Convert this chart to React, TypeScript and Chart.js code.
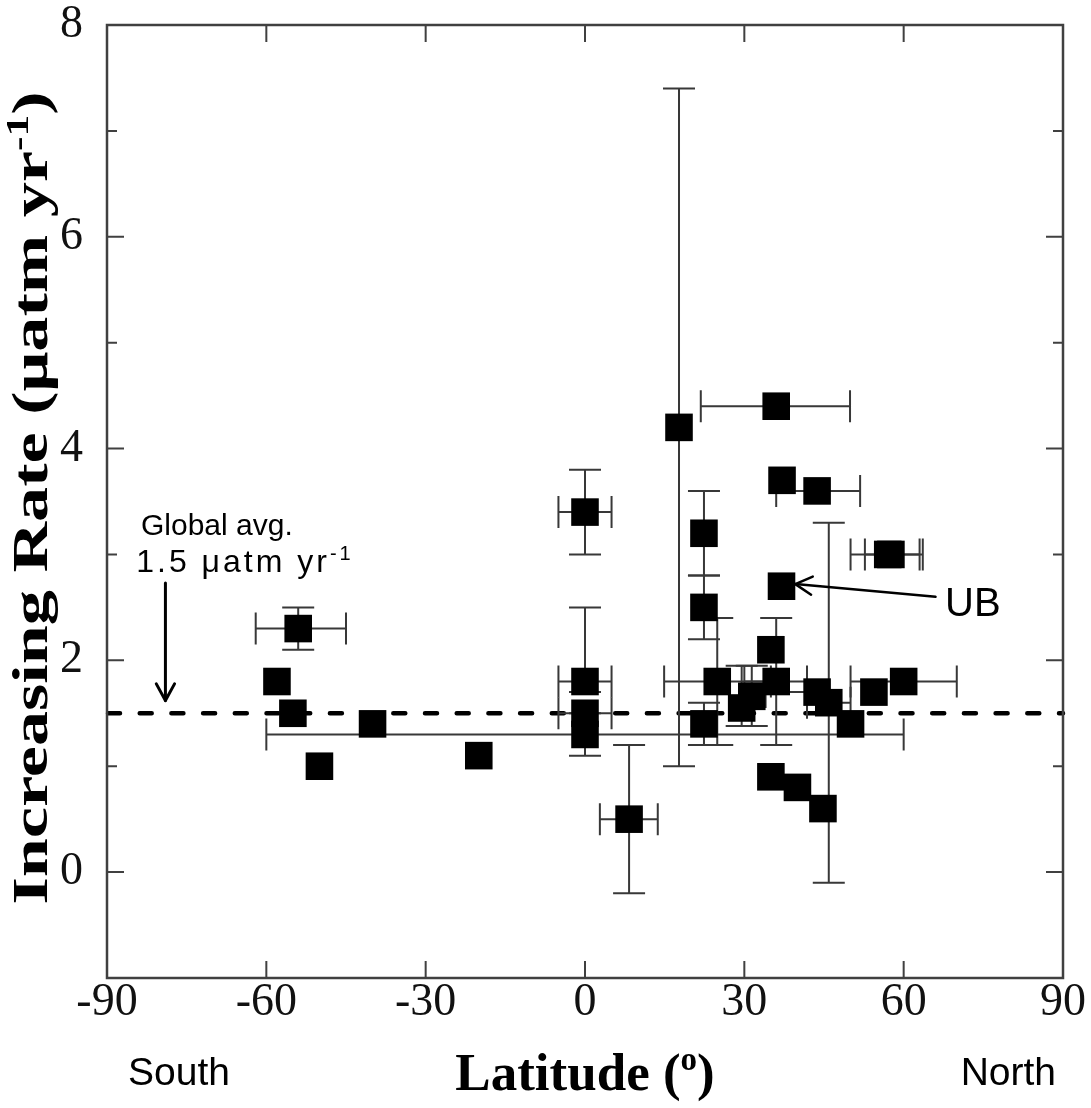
import React, { useEffect, useRef } from "react";
import { Chart, registerables } from "chart.js";

Chart.register(...registerables);

// ---- data ----
const latitude = [
  -58, -54, -55, -50, -40, -20,
  0, 0, 0, 0, 8.3,
  17.7, 22.4, 22.4, 24.9, 22.4, 29.5, 31.4, 35, 36,
  36, 37.1, 43.7, 37, 57, 57.6,
  43.7, 45.9, 50, 54.4, 60,
  35, 40, 44.8,
];
const rate = [
  1.8, 2.3, 1.5, 1.0, 1.4, 1.1,
  3.4, 1.8, 1.5, 1.3, 0.5,
  4.2, 3.2, 2.5, 1.8, 1.4, 1.55, 1.66, 2.1, 1.8,
  4.4, 3.7, 3.6, 2.7, 3.0, 3.0,
  1.7, 1.6, 1.4, 1.7, 1.8,
  0.9, 0.8, 0.6,
];
const latitudeLow: (number | null)[] = [
  null, -62, null, null, null, null,
  -5, -5, -5, -60, 2.8,
  null, null, null, 14.9, null, null, null, null, 30,
  21.8, null, 36, null, 50, 52.7,
  34, 41.8, null, null, 50,
  null, null, null,
];
const latitudeHigh: (number | null)[] = [
  null, -45, null, null, null, null,
  5, 5, 5, 60, 13.7,
  null, null, null, 35, null, null, null, null, 41.8,
  49.9, null, 51.8, null, 63, 63.6,
  null, 50, null, null, 70,
  null, null, null,
];
const rateLow: (number | null)[] = [
  null, 2.1, null, null, null, null,
  3.0, 1.7, null, 1.1, -0.2,
  1.0, 2.8, 2.2, 1.2, 1.2, 1.38, 1.38, null, 1.2,
  null, null, null, null, null, null,
  null, -0.1, null, null, null,
  null, null, null,
];
const rateHigh: (number | null)[] = [
  null, 2.5, null, null, null, null,
  3.8, 2.5, null, 1.5, 1.2,
  7.4, 3.6, 2.8, 2.4, 1.6, 1.95, 1.95, null, 2.4,
  null, null, null, null, null, null,
  null, 3.3, null, null, null,
  null, null, null,
];

const xTickValues = [-90, -60, -30, 0, 30, 60, 90];
const yTickValues = [0, 2, 4, 6, 8];
const yMinorTickValues = [-1, 1, 3, 5, 7];
const globalAverage = 1.5;

// annotation anchors in data units
const globalArrow = { lat: -79, from: 2.73, to: 1.62 };
const ubArrow = { fromLat: 66, fromRate: 2.6, toLat: 39.6, toRate: 2.72 };

const SERIF = '"Liberation Serif", "Times New Roman", serif';
const SANS = '"Liberation Sans", Arial, sans-serif';

type Part = { t: string; sup?: boolean };

function measureParts(ctx: CanvasRenderingContext2D, parts: Part[], size: number, weight: string, family: string) {
  let total = 0;
  const widths = parts.map((p) => {
    ctx.font = `${weight} ${p.sup ? Math.round(size * 0.62) : size}px ${family}`;
    const w = ctx.measureText(p.t).width;
    total += w;
    return w;
  });
  return { total, widths };
}

function drawParts(
  ctx: CanvasRenderingContext2D,
  parts: Part[],
  x: number,
  y: number,
  size: number,
  weight: string,
  family: string,
  align: "left" | "center" | "right"
) {
  const { total, widths } = measureParts(ctx, parts, size, weight, family);
  let cx = align === "center" ? x - total / 2 : align === "right" ? x - total : x;
  ctx.textAlign = "left";
  ctx.textBaseline = "alphabetic";
  parts.forEach((p, i) => {
    ctx.font = `${weight} ${p.sup ? Math.round(size * 0.62) : size}px ${family}`;
    ctx.fillText(p.t, cx, p.sup ? y - size * 0.38 : y);
    cx += widths[i];
  });
  return cx;
}

function drawArrow(ctx: CanvasRenderingContext2D, x1: number, y1: number, x2: number, y2: number, width: number) {
  const ang = Math.atan2(y2 - y1, x2 - x1);
  const head = 19;
  const spread = 0.5;
  ctx.save();
  ctx.strokeStyle = "#000";
  ctx.lineWidth = width;
  ctx.lineCap = "round";
  ctx.lineJoin = "round";
  ctx.beginPath();
  ctx.moveTo(x1, y1);
  ctx.lineTo(x2, y2);
  ctx.stroke();
  ctx.beginPath();
  ctx.moveTo(x2 - head * Math.cos(ang - spread), y2 - head * Math.sin(ang - spread));
  ctx.lineTo(x2, y2);
  ctx.lineTo(x2 - head * Math.cos(ang + spread), y2 - head * Math.sin(ang + spread));
  ctx.stroke();
  ctx.restore();
}

const underlayPlugin = {
  id: "underlay",
  beforeDatasetsDraw(chart: any) {
    const { ctx, chartArea, scales } = chart;
    const xs = scales.x;
    const ys = scales.y;
    ctx.save();
    // dashed global average line
    const yAvg = ys.getPixelForValue(globalAverage);
    ctx.strokeStyle = "#000";
    ctx.lineWidth = 4.5;
    ctx.lineCap = "round";
    ctx.setLineDash([12, 19.7]);
    ctx.beginPath();
    ctx.moveTo(chartArea.left + 1, yAvg);
    ctx.lineTo(chartArea.right, yAvg);
    ctx.stroke();
    ctx.setLineDash([]);

    // error bars
    ctx.strokeStyle = "#383838";
    ctx.lineWidth = 2;
    ctx.lineCap = "butt";
    const cap = 16;
    for (let i = 0; i < latitude.length; i++) {
      const px = xs.getPixelForValue(latitude[i]);
      const py = ys.getPixelForValue(rate[i]);
      const lo = latitudeLow[i];
      const hi = latitudeHigh[i];
      if (lo !== null || hi !== null) {
        const x1 = xs.getPixelForValue(lo !== null ? lo : latitude[i]);
        const x2 = xs.getPixelForValue(hi !== null ? hi : latitude[i]);
        ctx.beginPath();
        ctx.moveTo(x1, py);
        ctx.lineTo(x2, py);
        if (lo !== null) {
          ctx.moveTo(x1, py - cap);
          ctx.lineTo(x1, py + cap);
        }
        if (hi !== null) {
          ctx.moveTo(x2, py - cap);
          ctx.lineTo(x2, py + cap);
        }
        ctx.stroke();
      }
      const rlo = rateLow[i];
      const rhi = rateHigh[i];
      if (rlo !== null || rhi !== null) {
        const y1 = ys.getPixelForValue(rlo !== null ? rlo : rate[i]);
        const y2 = ys.getPixelForValue(rhi !== null ? rhi : rate[i]);
        ctx.beginPath();
        ctx.moveTo(px, y1);
        ctx.lineTo(px, y2);
        if (rlo !== null) {
          ctx.moveTo(px - cap, y1);
          ctx.lineTo(px + cap, y1);
        }
        if (rhi !== null) {
          ctx.moveTo(px - cap, y2);
          ctx.lineTo(px + cap, y2);
        }
        ctx.stroke();
      }
    }
    ctx.restore();
  },
  afterDraw(chart: any) {
    const { ctx, chartArea, scales } = chart;
    const xs = scales.x;
    const ys = scales.y;
    const { left, right, top, bottom } = chartArea;
    ctx.save();
    // frame
    ctx.strokeStyle = "#404040";
    ctx.lineWidth = 2.5;
    ctx.strokeRect(left, top, right - left, bottom - top);
    // inward ticks
    ctx.lineWidth = 2;
    ctx.beginPath();
    yTickValues.forEach((v) => {
      const p = ys.getPixelForValue(v);
      ctx.moveTo(left, p);
      ctx.lineTo(left + 17, p);
      ctx.moveTo(right, p);
      ctx.lineTo(right - 17, p);
    });
    yMinorTickValues.forEach((v) => {
      const p = ys.getPixelForValue(v);
      ctx.moveTo(left, p);
      ctx.lineTo(left + 10, p);
      ctx.moveTo(right, p);
      ctx.lineTo(right - 10, p);
    });
    xTickValues.forEach((v) => {
      const p = xs.getPixelForValue(v);
      ctx.moveTo(p, bottom);
      ctx.lineTo(p, bottom - 17);
      ctx.moveTo(p, top);
      ctx.lineTo(p, top + 17);
    });
    ctx.stroke();

    ctx.fillStyle = "#000";
    // y title (rotated, stretched along the text)
    const yParts: Part[] = [{ t: "Increasing Rate (\u03bcatm yr" }, { t: "-1", sup: true }, { t: ")" }];
    const ySize = 50;
    const m = measureParts(ctx, yParts, ySize, "bold", SERIF);
    ctx.save();
    ctx.translate(47, 498);
    ctx.rotate(-Math.PI / 2);
    ctx.scale(813 / m.total, 1);
    drawParts(ctx, yParts, 0, 0, ySize, "bold", SERIF, "center");
    ctx.restore();

    // x title
    drawParts(ctx, [{ t: "Latitude (" }, { t: "o", sup: true }, { t: ")" }], 585, 1090, 53, "bold", SERIF, "center");

    // South / North
    drawParts(ctx, [{ t: "South" }], 128, 1085, 39, "normal", SANS, "left");
    drawParts(ctx, [{ t: "North" }], 1056, 1085, 39, "normal", SANS, "right");

    // Global avg annotation
    const gx = xs.getPixelForValue(globalArrow.lat);
    drawParts(ctx, [{ t: "Global avg." }], xs.getPixelForValue(-83.6), ys.getPixelForValue(3.18), 30, "normal", SANS, "left");
    const lx = xs.getPixelForValue(-84.5);
    const ly = ys.getPixelForValue(2.83);
    ctx.save();
    (ctx as any).letterSpacing = "3px";
    drawParts(ctx, [{ t: "1.5 \u03bcatm yr" }, { t: "-1", sup: true }], lx, ly, 32, "normal", SANS, "left");
    ctx.restore();
    drawArrow(ctx, gx, ys.getPixelForValue(globalArrow.from), gx, ys.getPixelForValue(globalArrow.to), 3);

    // UB annotation
    drawParts(ctx, [{ t: "UB" }], xs.getPixelForValue(67.8), ys.getPixelForValue(2.42), 40, "normal", SANS, "left");
    drawArrow(
      ctx,
      xs.getPixelForValue(ubArrow.fromLat),
      ys.getPixelForValue(ubArrow.fromRate),
      xs.getPixelForValue(ubArrow.toLat),
      ys.getPixelForValue(ubArrow.toRate),
      2.5
    );
    ctx.restore();
  },
};

export default function App() {
  const canvasRef = useRef<HTMLCanvasElement | null>(null);

  useEffect(() => {
    const canvas = canvasRef.current;
    if (!canvas) return;
    const points = latitude.map((lat, i) => ({ x: lat, y: rate[i] }));
    const tickFont = { family: SERIF, size: 46, weight: "normal" as const, lineHeight: 1 };
    const chart = new Chart(canvas, {
      type: "scatter",
      data: {
        datasets: [
          {
            data: points,
            pointStyle: "rect",
            pointRadius: 19.5,
            pointBackgroundColor: "#000",
            pointBorderWidth: 0,
            pointBorderColor: "#000",
          },
        ],
      },
      options: {
        responsive: false,
        animation: false,
        devicePixelRatio: 1,
        events: [],
        layout: { padding: { top: 25, right: 28, left: 0, bottom: 0 } },
        plugins: { legend: { display: false }, tooltip: { enabled: false } },
        scales: {
          x: {
            type: "linear",
            min: -90,
            max: 90,
            afterBuildTicks: (s: any) => {
              s.ticks = xTickValues.map((v) => ({ value: v }));
            },
            afterFit: (s: any) => {
              s.height = 130;
              s.paddingLeft = 0;
              s.paddingRight = 0;
              s.paddingTop = 0;
              s.paddingBottom = 0;
            },
            grid: { display: false, drawTicks: false },
            border: { display: false },
            ticks: {
              color: "#111",
              font: tickFont,
              padding: 2,
              maxRotation: 0,
              autoSkip: false,
              callback: (v: any) => String(v),
            },
          },
          y: {
            type: "linear",
            min: -1,
            max: 8,
            afterBuildTicks: (s: any) => {
              s.ticks = yTickValues.map((v) => ({ value: v }));
            },
            afterFit: (s: any) => {
              s.width = 107;
              s.paddingLeft = 0;
              s.paddingRight = 0;
              s.paddingTop = 0;
              s.paddingBottom = 0;
            },
            grid: { display: false, drawTicks: false },
            border: { display: false },
            ticks: {
              color: "#111",
              font: tickFont,
              padding: 24,
              autoSkip: false,
              callback: (v: any) => String(v),
            },
          },
        },
      },
      plugins: [underlayPlugin],
    });
    return () => chart.destroy();
  }, []);

  return (
    <div style={{ position: "absolute", left: 0, top: 0, width: 1091, height: 1108, background: "#fff" }}>
      <canvas ref={canvasRef} width={1091} height={1108} style={{ width: 1091, height: 1108, display: "block" }} />
    </div>
  );
}
